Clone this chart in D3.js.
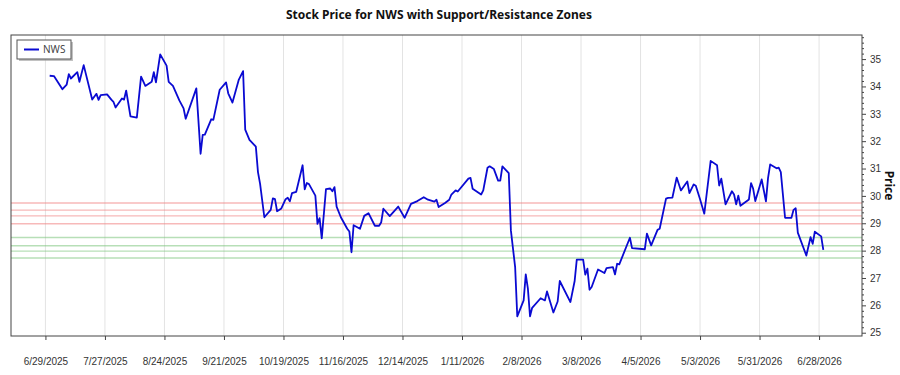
<!DOCTYPE html>
<html>
<head>
<meta charset="utf-8">
<script src="https://cdn.jsdelivr.net/npm/d3@7"></script>
<style>
  body { margin: 0; background: #fff; }
  svg { font-family: "Noto Sans", "Open Sans", sans-serif; }
</style>
</head>
<body>
<div id="chart"></div>
<script>
// Data
const dates = [
  '2025-07-01','2025-07-03','2025-07-07','2025-07-09','2025-07-10','2025-07-11','2025-07-14','2025-07-15','2025-07-17','2025-07-21',
  '2025-07-23','2025-07-24','2025-07-25','2025-07-28','2025-07-30','2025-07-31','2025-08-01','2025-08-04','2025-08-05','2025-08-06',
  '2025-08-08','2025-08-11','2025-08-13','2025-08-15','2025-08-18','2025-08-19','2025-08-20','2025-08-22','2025-08-25','2025-08-26',
  '2025-08-28','2025-08-31','2025-09-02','2025-09-03','2025-09-08','2025-09-10','2025-09-11','2025-09-12','2025-09-15','2025-09-16',
  '2025-09-19','2025-09-22','2025-09-23','2025-09-25','2025-09-28','2025-09-30','2025-10-01','2025-10-03','2025-10-06','2025-10-07',
  '2025-10-08','2025-10-10','2025-10-13','2025-10-14','2025-10-15','2025-10-16','2025-10-18','2025-10-20','2025-10-21','2025-10-22',
  '2025-10-23','2025-10-25','2025-10-28','2025-10-29','2025-10-30','2025-10-31','2025-11-03','2025-11-04','2025-11-05','2025-11-06',
  '2025-11-08','2025-11-10','2025-11-11','2025-11-12','2025-11-13','2025-11-15','2025-11-18','2025-11-19','2025-11-20','2025-11-21',
  '2025-11-24','2025-11-26','2025-11-28','2025-12-01','2025-12-03','2025-12-04','2025-12-05','2025-12-08','2025-12-12','2025-12-13',
  '2025-12-15','2025-12-18','2025-12-21','2025-12-24','2025-12-26','2025-12-29','2025-12-30','2025-12-31','2026-01-03','2026-01-05',
  '2026-01-06','2026-01-08','2026-01-09','2026-01-14','2026-01-15','2026-01-16','2026-01-20','2026-01-21','2026-01-23','2026-01-24',
  '2026-01-26','2026-01-28','2026-01-29','2026-01-30','2026-02-02','2026-02-03','2026-02-05','2026-02-06','2026-02-09','2026-02-10',
  '2026-02-11','2026-02-12','2026-02-13','2026-02-17','2026-02-19','2026-02-20','2026-02-23','2026-02-25','2026-02-26','2026-03-03',
  '2026-03-05','2026-03-06','2026-03-09','2026-03-10','2026-03-11','2026-03-12','2026-03-13','2026-03-16','2026-03-19','2026-03-20',
  '2026-03-23','2026-03-24','2026-03-25','2026-03-26','2026-03-31','2026-04-01','2026-04-07','2026-04-08','2026-04-10','2026-04-13',
  '2026-04-14','2026-04-17','2026-04-18','2026-04-20','2026-04-22','2026-04-24','2026-04-27','2026-04-28','2026-04-30','2026-05-01',
  '2026-05-03','2026-05-05','2026-05-08','2026-05-11','2026-05-12','2026-05-13','2026-05-15','2026-05-18','2026-05-19','2026-05-20',
  '2026-05-21','2026-05-22','2026-05-26','2026-05-27','2026-05-28','2026-05-29','2026-06-01','2026-06-03','2026-06-04','2026-06-05',
  '2026-06-08','2026-06-09','2026-06-10','2026-06-12','2026-06-15','2026-06-16','2026-06-17','2026-06-18','2026-06-22','2026-06-24',
  '2026-06-25','2026-06-26','2026-06-29','2026-06-30'
];
const prices = [
  34.39,34.38,33.90,34.07,34.45,34.29,34.52,34.17,34.78,33.52,
  33.73,33.51,33.68,33.71,33.52,33.44,33.23,33.56,33.52,33.85,
  32.91,32.86,34.36,34.02,34.17,34.52,34.15,35.17,34.76,34.17,
  34.02,33.49,33.20,32.82,33.93,31.54,32.23,32.24,32.80,32.78,
  33.88,34.15,33.75,33.41,34.25,34.56,32.42,32.05,31.80,30.87,
  30.44,29.22,29.49,29.91,29.88,29.44,29.54,29.88,29.93,29.80,
  30.10,30.15,31.12,30.24,30.47,30.43,30.01,28.98,29.19,28.45,
  30.25,30.27,30.17,30.32,29.61,29.22,28.80,28.70,27.94,28.93,
  28.80,29.27,29.37,28.91,28.91,29.04,29.53,29.26,29.61,29.47,
  29.20,29.71,29.81,29.95,29.86,29.79,29.86,29.59,29.74,29.86,
  30.05,30.20,30.16,30.63,30.66,30.26,30.05,30.20,31.03,31.08,
  30.98,30.56,30.56,31.08,30.83,28.74,27.40,25.60,26.18,27.13,
  26.61,25.60,25.91,26.26,26.18,26.51,25.74,26.14,26.89,26.12,
  26.89,27.67,27.67,27.12,27.34,26.57,26.67,27.31,27.18,27.36,
  27.40,27.13,27.52,27.50,28.47,28.09,28.05,28.62,28.19,28.76,
  28.80,29.90,29.93,29.94,30.67,30.20,30.53,30.10,30.42,30.37,
  29.88,29.35,31.28,31.12,30.38,30.63,29.69,30.17,30.05,29.69,
  30.01,29.64,29.87,30.47,30.26,29.81,30.60,29.80,30.66,31.15,
  31.01,31.03,30.87,29.20,29.20,29.49,29.55,28.66,27.82,28.49,
  28.25,28.69,28.52,28.03
];
const resistanceLevels = [29.74, 29.48, 29.27, 28.98];
const supportLevels = [28.48, 28.18, 27.98, 27.73];
const xTickDates = [
  '2025-06-29','2025-07-27','2025-08-24','2025-09-21','2025-10-19','2025-11-16','2025-12-14',
  '2026-01-11','2026-02-08','2026-03-08','2026-04-05','2026-05-03','2026-05-31','2026-06-28'
];
const yTicks = [25, 26, 27, 28, 29, 30, 31, 32, 33, 34, 35];
const yDomain = [24.88, 35.88];
const seriesName = 'NWS';

const parse = d3.timeParse('%Y-%m-%d');
const dataset = dates.map((d, i) => ({ date: parse(d), price: prices[i] }));
const xAccessor = d => d.date;
const yAccessor = d => d.price;

// Dimensions
const dimensions = {
  width: 900,
  height: 375,
  margin: { top: 35, right: 38, bottom: 39, left: 11 }
};
dimensions.containerWidth = dimensions.width - dimensions.margin.left - dimensions.margin.right;
dimensions.containerHeight = dimensions.height - dimensions.margin.top - dimensions.margin.bottom;

// Scales (5% padding on time axis)
const [t0, t1] = d3.extent(dataset, xAccessor);
const pad = (t1 - t0) * 0.05;
const xScale = d3.scaleTime()
  .domain([new Date(+t0 - pad), new Date(+t1 + pad)])
  .range([0, dimensions.containerWidth]);

const yScale = d3.scaleLinear()
  .domain(yDomain)
  .range([dimensions.containerHeight, 0]);

const svg = d3.select('#chart')
  .append('svg')
  .attr('width', dimensions.width)
  .attr('height', dimensions.height);

svg.append('text')
  .attr('x', 439)
  .attr('y', 19)
  .attr('text-anchor', 'middle')
  .attr('font-size', 12)
  .attr('font-weight', 'bold')
  .attr('fill', '#111')
  .text(`Stock Price for ${seriesName} with Support/Resistance Zones`);

const container = svg.append('g')
  .attr('transform', `translate(${dimensions.margin.left}, ${dimensions.margin.top})`);

// Vertical grid
const tickDates = xTickDates.map(parse);
container.append('g')
  .selectAll('line')
  .data(tickDates)
  .join('line')
  .attr('x1', d => xScale(d))
  .attr('x2', d => xScale(d))
  .attr('y1', 0)
  .attr('y2', dimensions.containerHeight)
  .attr('stroke', '#e3e3e3')
  .attr('stroke-width', 1);

// Support / resistance zones
container.append('g')
  .selectAll('line')
  .data(resistanceLevels)
  .join('line')
  .attr('x1', 0)
  .attr('x2', dimensions.containerWidth)
  .attr('y1', d => yScale(d))
  .attr('y2', d => yScale(d))
  .attr('stroke', '#f08080')
  .attr('stroke-opacity', 0.55)
  .attr('stroke-width', 1.4);

container.append('g')
  .selectAll('line')
  .data(supportLevels)
  .join('line')
  .attr('x1', 0)
  .attr('x2', dimensions.containerWidth)
  .attr('y1', d => yScale(d))
  .attr('y2', d => yScale(d))
  .attr('stroke', '#7cc47c')
  .attr('stroke-opacity', 0.55)
  .attr('stroke-width', 1.4);

// Price line
const line = d3.line()
  .x(d => xScale(xAccessor(d)))
  .y(d => yScale(yAccessor(d)));

container.append('path')
  .datum(dataset)
  .attr('d', line)
  .attr('fill', 'none')
  .attr('stroke', '#0a0ad2')
  .attr('stroke-width', 1.8)
  .attr('stroke-linejoin', 'round');

// Frame
container.append('rect')
  .attr('width', dimensions.containerWidth)
  .attr('height', dimensions.containerHeight)
  .attr('fill', 'none')
  .attr('stroke', '#444')
  .attr('stroke-width', 1);

// Axes
const xAxis = d3.axisBottom(xScale)
  .tickValues(tickDates)
  .tickFormat(d3.timeFormat('%-m/%-d/%Y'))
  .tickSize(4)
  .tickPadding(18);

const xAxisGroup = container.append('g')
  .call(xAxis)
  .style('transform', `translateY(${dimensions.containerHeight}px)`);
xAxisGroup.select('.domain').remove();
xAxisGroup.selectAll('text').attr('font-size', 10).attr('fill', '#333');
xAxisGroup.selectAll('line').attr('stroke', '#444');

const minorTicks = d3.range(Math.ceil(yDomain[0] * 5), Math.floor(yDomain[1] * 5) + 1)
  .map(v => v / 5)
  .filter(v => !yTicks.includes(Math.round(v * 100) / 100));

const yMinor = d3.axisRight(yScale)
  .tickValues(minorTicks)
  .tickFormat('')
  .tickSize(2);
const yMinorGroup = container.append('g')
  .call(yMinor)
  .attr('transform', `translate(${dimensions.containerWidth}, 0)`);
yMinorGroup.select('.domain').remove();
yMinorGroup.selectAll('line').attr('stroke', '#444');

const yAxis = d3.axisRight(yScale)
  .tickValues(yTicks)
  .tickSize(4)
  .tickPadding(4);
const yAxisGroup = container.append('g')
  .call(yAxis)
  .attr('transform', `translate(${dimensions.containerWidth}, 0)`);
yAxisGroup.select('.domain').remove();
yAxisGroup.selectAll('text').attr('font-size', 10).attr('fill', '#333');
yAxisGroup.selectAll('line').attr('stroke', '#444');

svg.append('text')
  .attr('transform', `translate(885, ${dimensions.margin.top + dimensions.containerHeight / 2}) rotate(90)`)
  .attr('text-anchor', 'middle')
  .attr('font-size', 12)
  .attr('font-weight', 'bold')
  .attr('fill', '#111')
  .text('Price');

// Legend
const legend = svg.append('g').attr('transform', 'translate(17, 40)');
legend.append('rect')
  .attr('x', 2).attr('y', 2)
  .attr('width', 54).attr('height', 19)
  .attr('fill', '#999').attr('opacity', 0.6);
legend.append('rect')
  .attr('width', 54).attr('height', 19)
  .attr('fill', '#fff')
  .attr('stroke', '#555')
  .attr('stroke-width', 1);
legend.append('line')
  .attr('x1', 7).attr('x2', 22)
  .attr('y1', 9.5).attr('y2', 9.5)
  .attr('stroke', '#0a0ad2')
  .attr('stroke-width', 2);
legend.append('text')
  .attr('x', 26).attr('y', 13)
  .attr('font-size', 10)
  .attr('fill', '#444')
  .text(seriesName);
</script>
</body>
</html>
